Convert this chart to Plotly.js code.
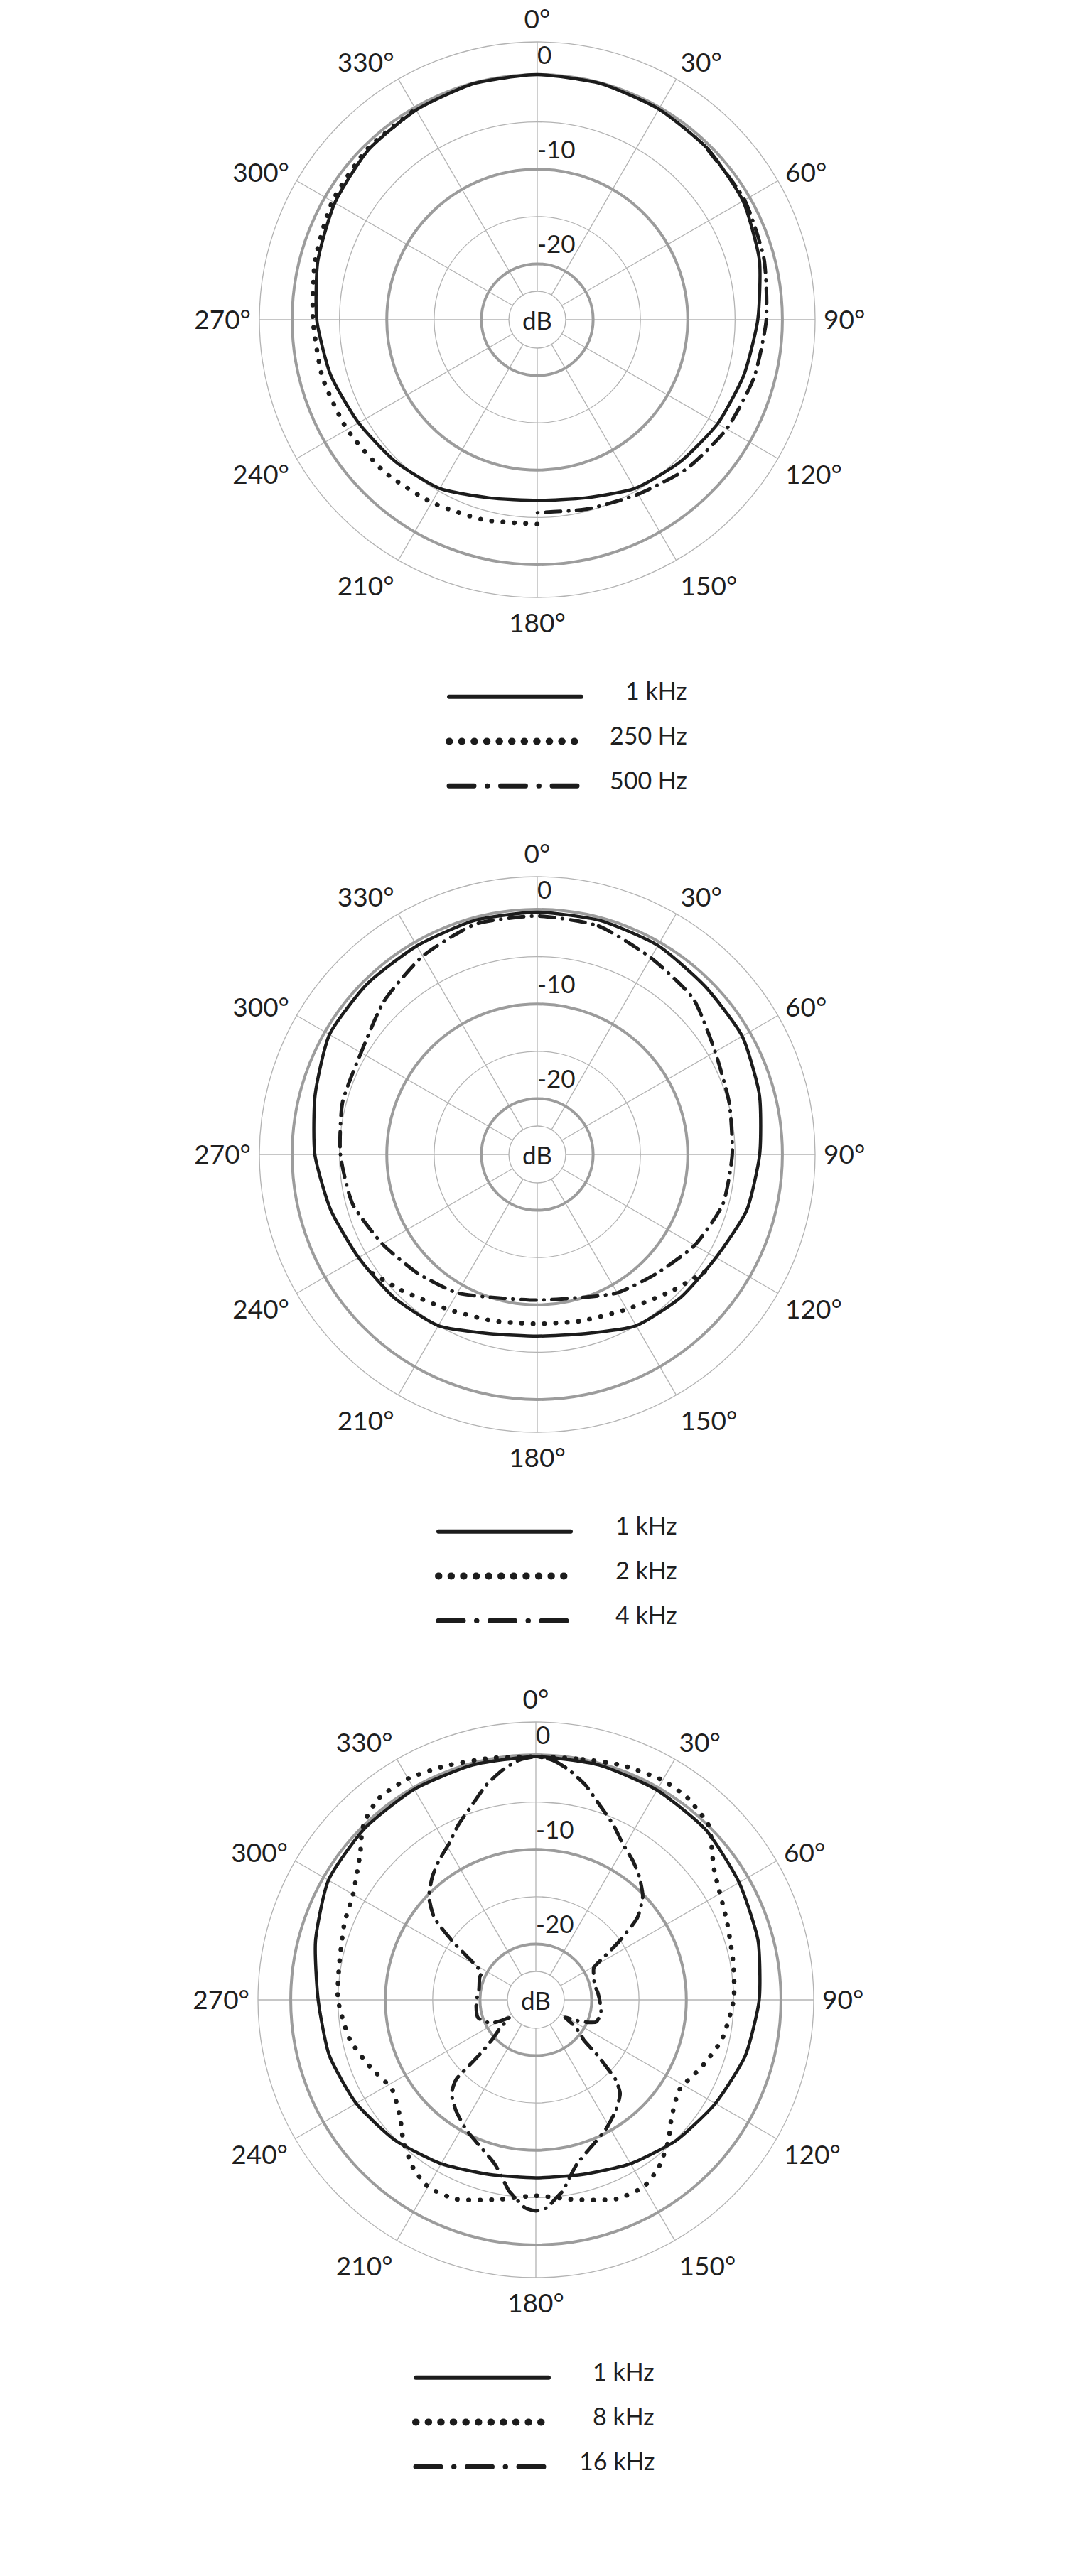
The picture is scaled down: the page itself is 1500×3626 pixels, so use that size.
<!DOCTYPE html>
<html>
<head>
<meta charset="utf-8">
<script src="https://cdn.plot.ly/plotly-3.0.1.min.js"></script>
<style>
html,body{margin:0;padding:0;background:#fff;}
#chart{width:1500px;height:3626px;}
</style>
</head>
<body>
<div id="chart"></div>
<script>
// ---------------- data ----------------
const ANGLE_TICKS = [0,30,60,90,120,150,180,210,240,270,300,330];
const RING_MAJOR = [0,-10,-20];
const RING_MINOR = [-5,-15];
const RADIAL_LABELS = ['0','-10','-20'];
const R_INNER = -22.9;   // dB at the "dB" hole edge
const R_OUTER = 3.46;    // dB at the outer ring

const THETA_15 = [0,15,30,45,60,75,90,105,120,135,150,165,180,195,210,225,240,255,270,285,300,315,330,345,360];

// Chart 1
const P1_1K = [0,-0.05,-0.2,-0.4,-0.8,-1.6,-2.6,-3.3,-3.9,-4.6,-5.3,-6.4,-6.8,-6.4,-5.3,-4.7,-4.1,-3.3,-2.6,-1.9,-1.2,-0.6,-0.3,-0.05,0];
const P1_250_THETA = [180,195,210,225,240,255,270,285,300,315,330];
const P1_250 = [-4.3,-4.0,-3.6,-3.1,-2.7,-2.4,-2.2,-1.6,-0.9,-0.45,-0.2];
const P1_500_THETA = [45,60,75,90,105,120,135,150,165,180];
const P1_500 = [-0.45,-0.6,-1.1,-1.7,-2.2,-2.8,-3.6,-4.6,-5.2,-5.5];

// Chart 2
const P2_1K = [-0.3,-0.3,-0.4,-0.8,-0.9,-1.6,-2.4,-3.0,-4.1,-4.5,-5.0,-6.3,-6.7,-6.3,-5.0,-4.5,-4.1,-3.3,-2.4,-1.6,-0.55,-0.45,-0.45,-0.3,-0.3];
const P2_2K_THETA = [125,135,150,165,180,195,210,225,235];
const P2_2K = [-4.3,-5.6,-7.0,-7.7,-8.0,-7.7,-7.0,-5.6,-4.3];
const P2_4K = [-0.7,-0.9,-1.9,-2.6,-4.2,-4.9,-5.3,-5.6,-6.7,-8.1,-9.0,-10.2,-10.5,-10.2,-9.0,-8.1,-7.0,-5.7,-5.1,-4.6,-4.4,-3.0,-1.7,-0.7,-0.7];

// Chart 3
const P3_1K = [-0.2,-0.2,-0.3,-0.5,-1.1,-1.6,-2.3,-3.0,-4.0,-4.9,-5.9,-6.8,-7.1,-6.8,-5.9,-4.9,-4.0,-3.3,-2.9,-1.8,-0.6,-0.3,-0.2,-0.2,-0.2];
const P3_8K_THETA = [0,11,20,30,37,41,44,47,50,54,58,68,80,90,102,112,122,131,137,144,150,158,169,180,
                     191,202,210,216,223,229,238,248,258,270,280,292,300,306,310,313,316,322,330,339,349,360];
const P3_8K = [-0.2,0,0.5,0.9,0.8,0.4,0.2,-0.6,-1.6,-2.6,-3.2,-4.1,-4.7,-5.0,-5.8,-7.0,-8.0,-6.9,-5.4,-3.9,-3.1,-3.2,-4.4,-5.2,
               -4.4,-3.2,-3.1,-3.9,-5.4,-6.9,-8.0,-7.0,-5.8,-5.0,-4.8,-4.1,-3.6,-2.6,-1.7,-0.7,0.2,1.1,1.1,0.6,0.1,-0.2];
const P3_16K_THETA = [0,4,8,13,18,24,29,35,40,46,51,55,58,61,68,75,84,93,101,110,114,118,121,124,128,130,132,133.5,135,138,144,152,160,166,169,172,174,177,180,
                      183,186,188,191,194,200,208,216,222,225,225.5,226,228,232,236,239,243,253,268,280,292,296,299,302,305,309,314,320,325,331,336,342,347,352,356,360];
const P3_16K = [-0.2,-0.5,-1.3,-2.6,-4.2,-5.7,-7.0,-8.0,-8.9,-10.2,-12.1,-15.2,-17.5,-18.9,-19.3,-19.5,-19.3,-19.1,-18.9,-19.1,-20.1,-21.4,-22.3,-21.0,-19.8,-19.3,-17.1,-15.7,-14.0,-12.6,-11.5,-10.3,-9.2,-8.0,-6.9,-5.5,-4.9,-3.9,-3.6,
                -3.9,-4.9,-5.5,-6.9,-8.0,-9.2,-10.3,-11.5,-12.6,-14.0,-16.5,-18.1,-19.8,-21.2,-22.5,-21.6,-20.5,-19.5,-19.6,-19.8,-19.5,-19.5,-18.9,-17.5,-15.2,-12.1,-10.2,-8.9,-8.0,-7.0,-5.7,-4.2,-2.6,-1.3,-0.5,-0.2];

const LEGEND_LABELS = [
  ['1 kHz','250 Hz','500 Hz'],
  ['1 kHz','2 kHz','4 kHz'],
  ['1 kHz','8 kHz','16 kHz']
];

// ---------------- layout constants ----------------
const W = 1500, H = 3626;
const R_PX = 391, HOLE_PX = 40;
const CENTERS = [[756,450],[756,1625],[754,2815]];
const LEG = [
  {x0:632, x1:818, tr:969, rows:[981,1044,1106]},
  {x0:617, x1:803, tr:955, rows:[2156,2219,2281]},
  {x0:585, x1:772, tr:923, rows:[3347,3410,3472]}
];
const FONT = 'Lato, "Open Sans", sans-serif';
const TXT = '#1f1f1f';
const CURVE = '#1c1c1c';
const GRID_THIN = '#b3b3b3';
const GRID_THICK = '#9c9c9c';

const STY = {
  solid:  {dash:'solid', width:4.5},
  dot:    {dash:'0.5px,15.5px', width:6.5},
  dashdot:{dash:'21px,11px,0.5px,11px', width:5}
};
const LEG_STY = {
  solid:  {dash:'solid', width:6},
  dot:    {dash:'0.5px,17.1px', width:10},
  dashdot:{dash:'35px,18.5px,0.5px,18.5px', width:7}
};

const layout = {
  width: W, height: H,
  margin: {l:0,r:0,t:0,b:0},
  paper_bgcolor: '#fff',
  showlegend: false,
  annotations: []
};
const data = [];

function polarDomain(c){
  return {
    x: [(c[0]-R_PX)/W, (c[0]+R_PX)/W],
    y: [1-(c[1]+R_PX)/H, 1-(c[1]-R_PX)/H]
  };
}

CENTERS.forEach((c, i) => {
  const gid = i === 0 ? 'polar' : 'polar' + (2*i+1);
  const oid = 'polar' + (2*i+2);
  const dom = polarDomain(c);
  layout[gid] = {
    domain: dom,
    hole: HOLE_PX / R_PX,
    bgcolor: '#fff',
    radialaxis: {
      range: [R_INNER, R_OUTER], tickmode: 'array', tickvals: RING_MINOR,
      showgrid: true, gridcolor: GRID_THIN, gridwidth: 1.3,
      showline: false, showticklabels: false, ticks: ''
    },
    angularaxis: {
      rotation: 90, direction: 'clockwise',
      tickmode: 'array', tickvals: ANGLE_TICKS, ticktext: ANGLE_TICKS.map(a => a + '°'),
      showgrid: true, gridcolor: GRID_THIN, gridwidth: 1.3,
      showline: true, linecolor: GRID_THIN, linewidth: 1.3,
      ticks: 'outside', ticklen: 4, tickcolor: 'rgba(0,0,0,0)',
      tickfont: {family: FONT, size: 37, color: TXT}
    }
  };
  layout[oid] = {
    domain: dom,
    hole: HOLE_PX / R_PX,
    bgcolor: 'rgba(0,0,0,0)',
    radialaxis: {
      range: [R_INNER, R_OUTER], tickmode: 'array', tickvals: RING_MAJOR,
      showgrid: true, gridcolor: GRID_THICK, gridwidth: 4,
      showline: false, showticklabels: false, ticks: ''
    },
    angularaxis: {
      rotation: 90, direction: 'clockwise',
      showgrid: false, showline: false, showticklabels: false, ticks: ''
    }
  };
  // radial labels (also makes the grid subplot render)
  data.push({
    type: 'scatterpolar', subplot: gid, mode: 'text',
    r: RING_MAJOR.map(v => v + 1.8), theta: RING_MAJOR.map(() => 0),
    text: RADIAL_LABELS, textposition: 'middle right',
    textfont: {family: FONT, size: 35, color: TXT},
    cliponaxis: false, hoverinfo: 'skip'
  });
  layout.annotations.push({
    xref: 'paper', yref: 'paper', x: c[0]/W, y: 1 - c[1]/H,
    text: 'dB', showarrow: false, xanchor: 'center', yanchor: 'middle',
    font: {family: FONT, size: 35, color: TXT}
  });
});

function curve(sub, theta, r, sty){
  data.push({
    type: 'scatterpolar', subplot: sub, mode: 'lines',
    theta: theta, r: r,
    line: {color: CURVE, width: sty.width, dash: sty.dash, shape: 'spline', smoothing: 0.6},
    hoverinfo: 'skip'
  });
}

// chart 1
curve('polar2', P1_250_THETA, P1_250, STY.dot);
curve('polar2', P1_500_THETA, P1_500, STY.dashdot);
curve('polar2', THETA_15, P1_1K, STY.solid);
// chart 2
curve('polar4', P2_2K_THETA, P2_2K, STY.dot);
curve('polar4', THETA_15, P2_4K, STY.dashdot);
curve('polar4', THETA_15, P2_1K, STY.solid);
// chart 3
curve('polar6', P3_8K_THETA, P3_8K, STY.dot);
curve('polar6', P3_16K_THETA, P3_16K, STY.dashdot);
curve('polar6', THETA_15, P3_1K, STY.solid);

// legends
const LEG_ORDER = ['solid','dot','dashdot'];
const ROW_Y = [3,2,1];
LEG.forEach((g, i) => {
  const xa = i === 0 ? 'xaxis' : 'xaxis' + (i+1);
  const ya = i === 0 ? 'yaxis' : 'yaxis' + (i+1);
  const xr = i === 0 ? 'x' : 'x' + (i+1);
  const yr = i === 0 ? 'y' : 'y' + (i+1);
  const pad = 0.04 * (g.x1 - g.x0);
  layout[xa] = {domain: [(g.x0 - pad)/W, (g.x1 + pad)/W], range: [-0.04, 1.04], visible: false, fixedrange: true};
  const step = g.rows[1] - g.rows[0];
  layout[ya] = {domain: [1 - (g.rows[2] + step/2)/H, 1 - (g.rows[0] - step/2)/H], range: [0.5, 3.5], visible: false, fixedrange: true};
  LEG_ORDER.forEach((k, j) => {
    const s = LEG_STY[k];
    data.push({
      type: 'scatter', mode: 'lines', xaxis: xr, yaxis: yr,
      x: [0, 1], y: [ROW_Y[j], ROW_Y[j]],
      line: {color: CURVE, width: s.width, dash: s.dash},
      hoverinfo: 'skip'
    });
    layout.annotations.push({
      xref: 'paper', yref: yr, x: g.tr / W, y: ROW_Y[j],
      text: LEGEND_LABELS[i][j], showarrow: false,
      xanchor: 'right', yanchor: 'middle', yshift: 9,
      font: {family: FONT, size: 34, color: TXT}
    });
  });
});

Plotly.newPlot('chart', data, layout, {staticPlot: true, displayModeBar: false}).then(() => {
  document.querySelectorAll('path.js-line').forEach(p => {
    p.style.strokeLinecap = 'round';
    p.style.strokeLinejoin = 'round';
  });
});
</script>
</body>
</html>
